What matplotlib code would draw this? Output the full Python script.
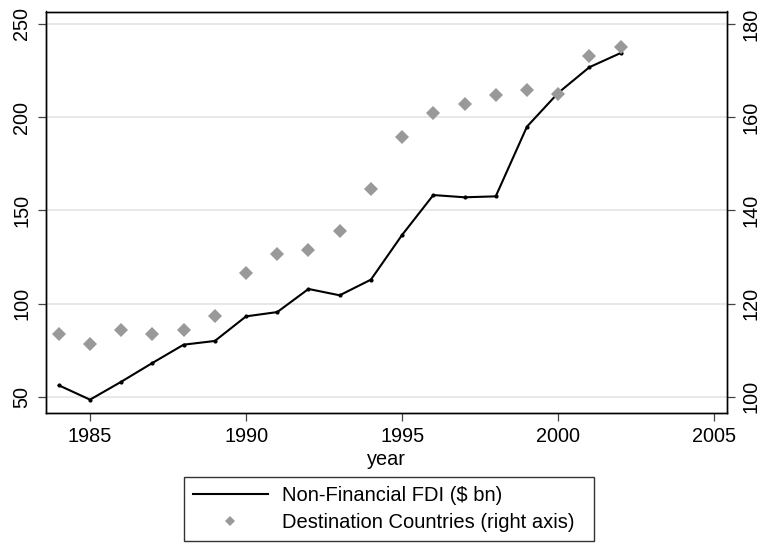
import matplotlib
matplotlib.use("Agg")
import matplotlib.pyplot as plt
from matplotlib.lines import Line2D

plt.rcParams['font.family'] = ['Liberation Sans', 'DejaVu Sans']

years = list(range(1984, 2003))
fdi = [56.1, 48.4, 58.0, 68.1, 77.9, 79.9, 93.1, 95.4, 107.8, 104.4, 112.8,
       136.8, 158.2, 157.0, 157.5, 194.9, 213.0, 226.8, 234.4]
countries = [113.4, 111.3, 114.4, 113.4, 114.4, 117.4, 126.5, 130.6, 131.5,
             135.6, 144.6, 155.8, 160.8, 162.9, 164.8, 165.9, 164.9, 173.1,
             175.0]

left_ticks = [50, 100, 150, 200, 250]
right_ticks = [100, 120, 140, 160, 180]
x_ticks = [1985, 1990, 1995, 2000, 2005]

W, H = 763, 544
fig = plt.figure(figsize=(W / 100, H / 100), dpi=100)
x0, x1, y0, y1 = 45.7, 727.0, 11.5, 412.7
ax = fig.add_axes([x0 / W, 1 - y1 / H, (x1 - x0) / W, (y1 - y0) / H])
ax2 = ax.twinx()

fs = 14.3
ax.set_xlim(1983.58, 2005.41)
ax.set_ylim(41.4, 256.7)
ax2.set_ylim(96.56, 182.7)

ax.set_yticks(left_ticks)
ax2.set_yticks(right_ticks)
ax.set_xticks(x_ticks)
ax.grid(axis='y', color='#e6e6e6', linewidth=1.3)
ax.grid(axis='x', visible=False)
ax.set_axisbelow(True)

line, = ax.plot(years, fdi, color='black', linewidth=1.5, marker='o',
                markersize=2, zorder=3)
ax2.plot(years, countries, linestyle='none', marker='D', markersize=7.2,
         color='#999999', markeredgewidth=0, zorder=4)

for a in (ax, ax2):
    for s in a.spines.values():
        s.set_color('black')
        s.set_linewidth(1.0)
    a.tick_params(axis='both', direction='out', length=5.8, width=0.9,
                  color='#444444', labelsize=fs, pad=4.5)

ax.tick_params(axis='y', labelrotation=90)
ax2.tick_params(axis='y', labelrotation=90)
for lab in ax.get_yticklabels() + ax2.get_yticklabels():
    lab.set_va('center')

ax.set_xlabel('year', fontsize=fs, labelpad=3)

h1 = Line2D([], [], color='black', linewidth=1.5)
h2 = Line2D([], [], linestyle='none', marker='D', markersize=5.5,
            color='#999999', markeredgewidth=0)
leg = fig.legend([h1, h2], ['Non-Financial FDI ($ bn)',
                            'Destination Countries (right axis)  '],
                 loc='upper left', bbox_to_anchor=(184 / W, 1 - 477.3 / H),
                 borderaxespad=0, fontsize=14.5, frameon=True, fancybox=False,
                 edgecolor='black', handlelength=3.7, handletextpad=0.7,
                 borderpad=0.45, labelspacing=0.4)
leg.get_frame().set_linewidth(1.0)

fig.savefig('out.png', dpi=100)
